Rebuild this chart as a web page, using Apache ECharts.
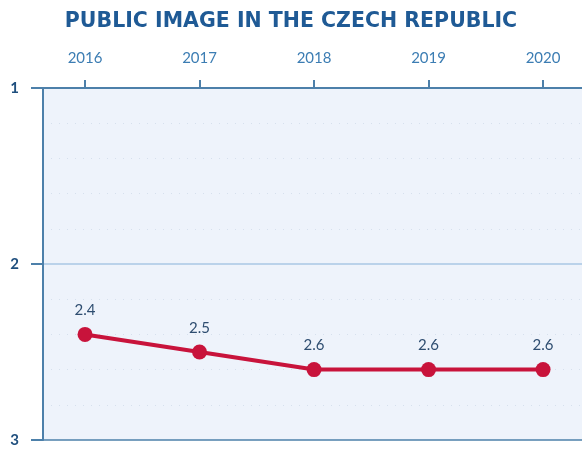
<!DOCTYPE html>
<html lang="en">
<head>
    <meta charset="UTF-8">
    <title>Public image in the Czech Republic</title>
    <script src="https://cdn.jsdelivr.net/npm/echarts@6.0.0/dist/echarts.min.js"></script>
    <style>
        html, body { margin: 0; padding: 0; background: #ffffff; }
        #main { width: 582px; height: 450px; }
    </style>
</head>
<body>
    <div id="main"></div>
    <script>
        // chart data
        const years = [2016, 2017, 2018, 2019, 2020];
        const scores = [2.4, 2.5, 2.6, 2.6, 2.6];
        const scaleTicks = [1, 2, 3];

        const chart = echarts.init(document.getElementById('main'));

        chart.setOption({
            animation: false,
            title: {
                text: 'PUBLIC IMAGE IN THE CZECH REPUBLIC',
                left: 'center',
                top: 6,
                textStyle: {
                    fontFamily: 'DejaVu Sans',
                    fontWeight: 'bold',
                    fontSize: 20.5,
                    color: '#1f5a95'
                }
            },
            grid: {
                left: 43, right: 0, top: 88, bottom: 10,
                show: true,
                backgroundColor: '#eef3fb',
                borderWidth: 0
            },
            xAxis: {
                type: 'value',
                position: 'top',
                min: 2015.633,
                max: 2020.34,
                axisLine: { show: true, lineStyle: { color: '#4d80aa', width: 2 } },
                axisTick: {
                    show: true, length: 8, customValues: years,
                    lineStyle: { color: '#4d80aa', width: 2 }
                },
                axisLabel: {
                    customValues: years,
                    margin: 22,
                    fontFamily: 'Lato',
                    fontSize: 15,
                    color: '#3c7db3',
                    formatter: v => String(v)
                },
                splitLine: { show: false }
            },
            yAxis: {
                type: 'value',
                inverse: true,
                min: 1,
                max: 3,
                interval: 1,
                axisLine: { show: true, lineStyle: { color: '#4d80aa', width: 2 } },
                axisTick: { show: true, length: 12, lineStyle: { color: '#4d80aa', width: 2 } },
                axisLabel: {
                    margin: 24,
                    fontFamily: 'Lato',
                    fontWeight: 'bold',
                    fontSize: 15,
                    color: '#1f4f7e',
                    formatter: v => scaleTicks.includes(v) ? String(v) : ''
                },
                splitLine: {
                    show: true,
                    lineStyle: { color: ['#4d80aa', '#a9c7e5', '#4d80aa'], width: 1.5 }
                },
                minorTick: { show: false, splitNumber: 5 },
                minorSplitLine: {
                    show: true,
                    lineStyle: { color: '#d6e0ed', type: [1, 7], width: 1 }
                }
            },
            series: [{
                type: 'line',
                data: years.map((y, i) => [y, scores[i]]),
                symbol: 'circle',
                symbolSize: 15,
                lineStyle: { color: '#c8133b', width: 4 },
                itemStyle: { color: '#c8133b' },
                label: {
                    show: true,
                    position: 'top',
                    distance: 9,
                    fontFamily: 'Lato',
                    fontSize: 15,
                    color: '#2e4d70',
                    formatter: p => p.value[1].toFixed(1)
                }
            }]
        });
    </script>
</body>
</html>
